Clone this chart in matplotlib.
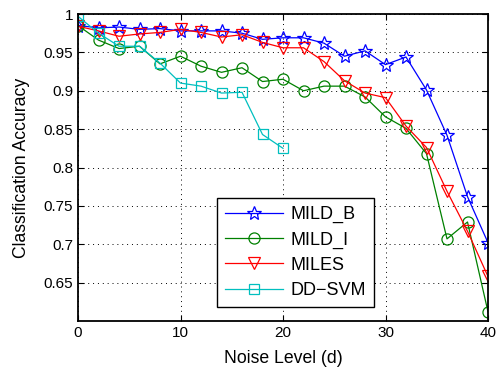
import numpy as np
import matplotlib.pyplot as plt

plt.rcParams['font.family'] = ['Liberation Sans', 'DejaVu Sans']

noise = [0, 2, 4, 6, 8, 10, 12, 14, 16, 18, 20, 22, 24, 26, 28, 30, 32, 34, 36, 38, 40]
noise_dd = noise[:11]

mild_b = [0.985, 0.982, 0.983, 0.980, 0.981, 0.978, 0.978, 0.978, 0.975, 0.967, 0.969,
          0.969, 0.962, 0.945, 0.952, 0.934, 0.944, 0.901, 0.842, 0.762, 0.702]
mild_i = [0.985, 0.966, 0.955, 0.958, 0.935, 0.945, 0.932, 0.924, 0.930, 0.912, 0.915,
          0.900, 0.906, 0.906, 0.892, 0.866, 0.851, 0.818, 0.707, 0.729, 0.612]
miles = [0.984, 0.978, 0.971, 0.974, 0.976, 0.980, 0.976, 0.970, 0.973, 0.963, 0.956,
         0.956, 0.938, 0.913, 0.897, 0.891, 0.854, 0.826, 0.769, 0.717, 0.658]
dd_svm = [0.997, 0.975, 0.958, 0.958, 0.936, 0.910, 0.906, 0.897, 0.898, 0.843, 0.825]

fig = plt.figure(figsize=(4.99, 3.68), dpi=100)
ax = fig.add_axes([78/499, 1-321/368, 410/499, 307/368])

ax.plot(noise, mild_b, '-*', color='b', mfc='none', ms=10, lw=0.9, mew=0.9, label='MILD_B')
ax.plot(noise, mild_i, '-o', color=(0, 0.5, 0), mfc='none', ms=8, lw=0.9, mew=0.9, label='MILD_I')
ax.plot(noise, miles, '-v', color='r', mfc='none', ms=9, lw=0.9, mew=0.9, label='MILES')
ax.plot(noise_dd, dd_svm, '-s', color=(0, 0.75, 0.75), mfc='none', ms=7, lw=0.9, mew=0.9, label='DD\u2212SVM')

ax.set_xlim(0, 40)
ax.set_ylim(0.6, 1)
ax.set_xticks([0, 10, 20, 30, 40])
ax.set_yticks([0.65, 0.7, 0.75, 0.8, 0.85, 0.9, 0.95, 1])
ax.set_yticklabels(['0.65', '0.7', '0.75', '0.8', '0.85', '0.9', '0.95', '1'])
ax.tick_params(direction='in', top=True, right=True, labelsize=11, length=4, width=0.8)
ax.grid(True, color='k', linestyle=(0, (1, 4)), linewidth=0.7)
for s in ax.spines.values():
    s.set_linewidth(1.3)

ax.set_xlabel('Noise Level (d)', fontsize=12.7, labelpad=7)
ax.set_ylabel('Classification Accuracy', fontsize=12.7, labelpad=10)

leg = ax.legend(loc='lower left', bbox_to_anchor=(217/499, 1-307/368), bbox_transform=fig.transFigure,
                fontsize=13, fancybox=False, framealpha=1, edgecolor='k', handlelength=3.2,
                borderpad=0.45, labelspacing=0.45, handletextpad=0.4, borderaxespad=0)
leg.get_frame().set_linewidth(1.0)

fig.savefig('out.png', dpi=100)
